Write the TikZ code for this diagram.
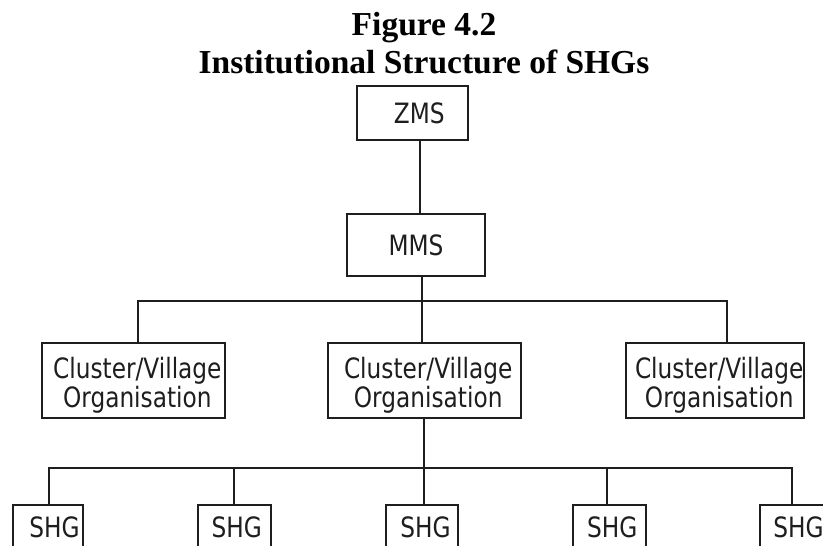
\documentclass[tikz,border=0pt]{standalone}
\usepackage{fontspec}
\setmainfont{Liberation Serif}
\newfontfamily\boxfont[FakeStretch=0.83]{DejaVu Sans}
\definecolor{ink}{HTML}{1E1E1E}
\newcommand{\upstrut}{\rule{0pt}{30pt}}
\begin{document}
\begin{tikzpicture}[x=1pt,y=-1pt,
  box/.style={draw=ink, line width=2pt, rectangle, inner sep=0pt, outer sep=0pt,
    font=\boxfont\fontsize{28}{29}\selectfont, text=ink, align=center},
  link/.style={draw=ink, line width=1.9pt},
  ttl/.style={font=\bfseries\fontsize{33.5}{38}\selectfont, text=black, anchor=base, inner sep=0pt}]
\clip (0,0) rectangle (823,546);
\fill[white] (0,0) rectangle (823,546);
% title
\node[ttl] (t1) at (424,35) {Figure 4.2};
\node[ttl] (t2) at (424,73) {Institutional Structure of SHGs};
% boxes
\node[box, minimum width=111pt, minimum height=54pt] (zms) at (412.2,113) {\hspace*{14pt}ZMS};
\node[box, minimum width=137.4pt, minimum height=62pt] (mms) at (416,245) {MMS};
\node[box, minimum width=183.3pt, minimum height=75pt] (cl) at (133.3,380.7) {\upstrut\hspace*{8pt}Cluster/Village\\\hspace*{8pt}Organisation};
\node[box, minimum width=193pt, minimum height=75pt] (cm) at (424.2,380.7) {\upstrut\hspace*{8pt}Cluster/Village\\\hspace*{8pt}Organisation};
\node[box, minimum width=178.3pt, minimum height=75pt] (cr) at (715.2,380.7) {\upstrut\hspace*{8pt}Cluster/Village\\\hspace*{8pt}Organisation};
\node[box, minimum width=70.6pt, minimum height=44pt] (s1) at (48,527) {\hspace*{13pt}SHG};
\node[box, minimum width=72.7pt, minimum height=44pt] (s2) at (234.3,527) {\hspace*{5pt}SHG};
\node[box, minimum width=72.6pt, minimum height=44pt] (s3) at (422,527) {\hspace*{7pt}SHG};
\node[box, minimum width=73.3pt, minimum height=44pt] (s4) at (609.3,527) {\hspace*{6pt}SHG};
\node[box, minimum width=72pt, minimum height=44pt] (s5) at (796,527) {\hspace*{5pt}SHG};
% junction coordinates
\coordinate (zx) at (420,0);
\coordinate (tl) at (137.7,301);
\coordinate (tm) at (421.7,301);
\coordinate (tr) at (726.7,301);
\coordinate (bl) at (49.3,468.3);
\coordinate (bm) at (424,468.3);
\coordinate (b2) at (234.3,468.3);
\coordinate (b4) at (606.7,468.3);
\coordinate (br) at (792.3,468.3);
% connectors
\draw[link] (zms.south -| zx) -- (mms.north -| zx);
\draw[link] (mms.south -| tm) -- (cm.north -| tm);
\draw[link] (cl.north -| tl) -- (tl) -- (tr) -- (cr.north -| tr);
\draw[link] (cm.south -| bm) -- (s3.north -| bm);
\draw[link] (s1.north -| bl) -- (bl) -- (br) -- (s5.north -| br);
\draw[link] (b2) -- (s2.north -| b2);
\draw[link] (b4) -- (s4.north -| b4);
\end{tikzpicture}
\end{document}
